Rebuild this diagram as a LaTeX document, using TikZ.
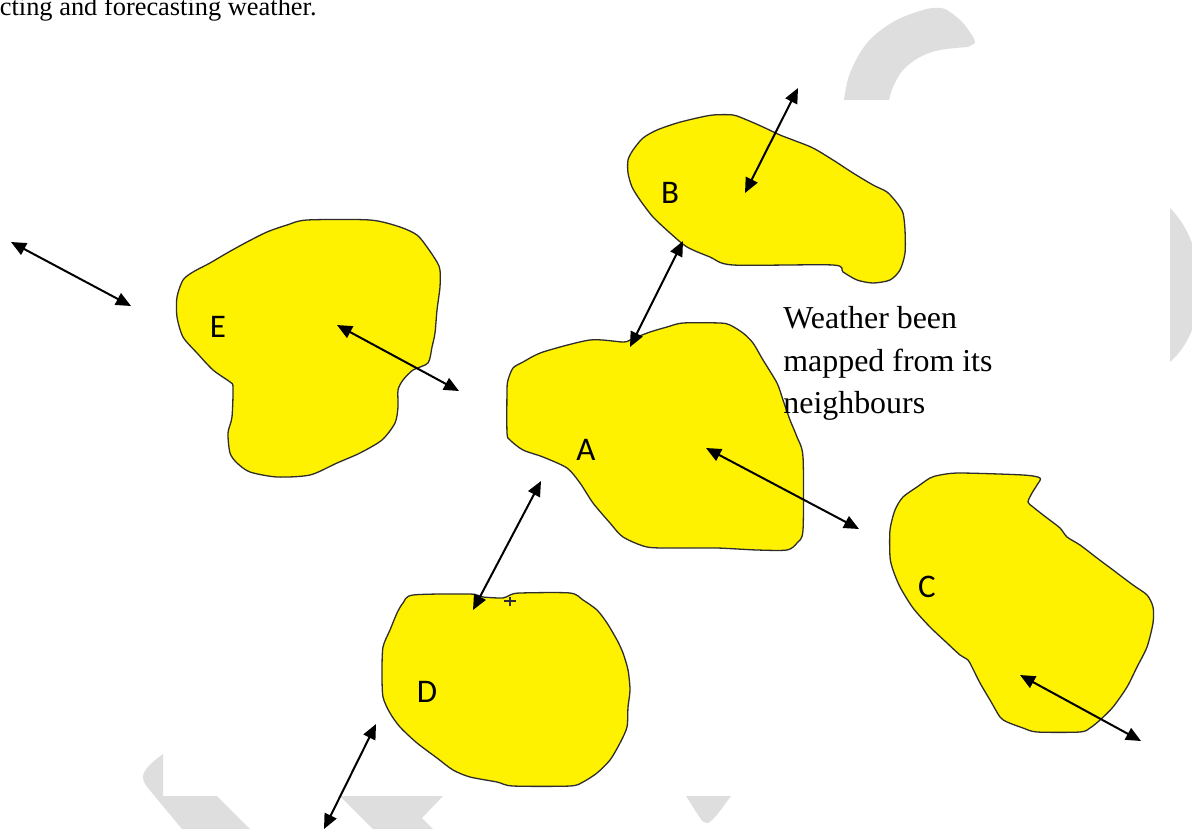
\documentclass[tikz,border=0pt]{standalone}
\usepackage{fontspec}
\setmainfont{Liberation Serif}
\newfontfamily\labfont{Carlito}
\usetikzlibrary{arrows.meta}
\definecolor{blobyellow}{RGB}{255,242,0}
\definecolor{wmgray}{RGB}{222,222,222}
\definecolor{blobline}{RGB}{45,45,45}
\begin{document}
\begin{tikzpicture}[x=0.5pt,y=-0.5pt,
  blob/.style={fill=blobyellow,draw=blobline,line width=0.65pt},
  wm/.style={fill=wmgray},
  link/.style={{Triangle[length=7.5pt,width=6.5pt]}-{Triangle[length=7.5pt,width=6.5pt]},line width=1pt},
  lab/.style={font=\labfont\fontsize{16.5}{20}\selectfont,inner sep=0pt,anchor=base},
  note/.style={font=\fontsize{15.95}{19}\selectfont,inner sep=0pt,anchor=base west}]
\useasboundingbox (0,0) rectangle (1192,829);
\fill[white] (0,0) rectangle (1192,829);
\clip (0,0) rectangle (1192,829);
% watermark shapes
\fill[wm] plot[smooth,tension=0.6] coordinates {(844,100)(850,73)(867,43)(893,22)(923,10)(940,8)(950,12)(963,23)(973,37)(975,43)} -- (968,47)
  -- plot[smooth,tension=0.6] coordinates {(968,47)(940,50)(920,57)(903,70)(893,87)(889,100)} -- cycle;
\fill[wm] (1170,208) .. controls (1180,218) and (1187,230) .. (1192,243) -- (1192,330) .. controls (1186,345) and (1178,355) .. (1170,362) -- cycle;
\fill[wm] (163,754) .. controls (152,762) and (143,770) .. (143,777) .. controls (143,781) and (145,784) .. (148,788) -- (182,829) -- (250,829) -- (217,796) -- (163,796) -- cycle;
\fill[wm] (340,796) -- (443,796) -- (422,818) -- (433,829) -- (373,829) -- cycle;
\fill[wm] (686,796) -- (731,796) .. controls (722,808) and (714,820) .. (708,823) .. controls (704,823) and (702,821) .. (700,818) -- cycle;
% blobs
\draw[blob] plot[smooth cycle,tension=0.45] coordinates {(307,220)(370,220)(400,227)(417,235)(427,247)(437,262)(440,270)(440,287)(437,310)(435,333)(432,347)(428,363)(413,370)(403,380)(398,390)(398,407)(395,423)(382,440)(360,453)(337,463)(310,475)(277,477)(250,472)(237,463)(230,453)(228,433)(232,417)(233,387)(230,382)(213,370)(197,353)(183,337)(177,317)(177,297)(183,280)(193,272)(210,263)(227,253)(247,242)(267,232)(287,225)};
\draw[blob] plot[smooth cycle,tension=0.45] coordinates {(713,115)(733,115)(747,120)(763,127)(780,135)(793,140)(813,148)(833,160)(853,173)(873,185)(887,192)(897,203)(903,213)(905,230)(905,253)(900,270)(890,280)(873,283)(857,280)(843,272)(833,265)(733,265)(710,257)(687,247)(670,233)(653,217)(640,200)(632,187)(628,173)(628,160)(633,150)(643,138)(657,130)(677,123)(697,118)};
\draw[blob] plot[smooth cycle,tension=0.45] coordinates {(623,342)(590,340)(543,352)(523,362)(513,368)(508,380)(507,390)(507,433)(510,440)(523,450)(543,457)(567,468)(580,483)(593,503)(610,523)(623,537)(647,547)(677,548)(717,548)(757,550)(787,550)(797,543)(803,530)(803,457)(797,437)(790,420)(783,400)(777,383)(763,360)(753,343)(743,333)(730,325)(720,323)(683,323)(667,327)(650,332)(637,337)(630,340)};
\draw[blob] plot[smooth cycle,tension=0.45] coordinates {(940,475)(960,473)(1023,475)(1040,478)(1037,485)(1032,493)(1028,502)(1033,507)(1047,518)(1060,528)(1067,537)(1080,545)(1097,558)(1113,570)(1133,585)(1147,595)(1153,607)(1153,623)(1147,647)(1137,667)(1127,687)(1113,707)(1100,720)(1090,728)(1080,732)(1037,732)(1023,728)(1007,722)(1000,717)(990,700)(980,683)(972,667)(968,660)(960,655)(947,643)(930,627)(913,608)(900,587)(893,570)(890,557)(890,530)(895,510)(903,497)(917,487)(930,478)};
\draw[blob] plot[smooth cycle,tension=0.45] coordinates {(413,595)(470,594)(483,597)(503,598)(510,595)(520,593)(570,593)(583,600)(597,610)(607,623)(617,640)(623,653)(628,670)(630,690)(628,707)(627,727)(620,743)(610,760)(597,773)(583,782)(570,786)(513,786)(497,782)(470,777)(453,770)(437,758)(417,743)(400,727)(390,713)(383,697)(382,673)(383,647)(390,630)(397,613)(403,603)};
\draw[blobline,line width=0.6pt] (504,601) -- (516,601) (510,597) -- (510,606);
% labels
\node[lab] (E) at (218,337) {E};
\node[lab] (A) at (586,460) {A};
\node[lab] (B) at (670,203) {B};
\node[lab] (C) at (927,597) {C};
\node[lab] (D) at (427,702) {D};
% arrow end points
\coordinate (o1) at (11,242);  \coordinate (o2) at (131,306);
\coordinate (e1) at (337,325); \coordinate (e2) at (459,391);
\coordinate (b1) at (745,193); \coordinate (b2) at (798,88);
\coordinate (ab1) at (630,347); \coordinate (ab2) at (683,241);
\coordinate (ac1) at (706,448); \coordinate (ac2) at (859,529);
\coordinate (da1) at (473,610); \coordinate (da2) at (541,481);
\coordinate (d1) at (376,724); \coordinate (d2) at (324,829);
\coordinate (c1) at (1020,675); \coordinate (c2) at (1141,741);
\draw[link] (o1) -- (o2);
\draw[link] (e1) -- (e2);
\draw[link] (b1) -- (b2);
\draw[link] (ab1) -- (ab2);
\draw[link] (ac1) -- (ac2);
\draw[link] (da1) -- (da2);
\draw[link] (d1) -- (d2);
\draw[link] (c1) -- (c2);
% texts
\node[note] (t1) at (783,328) {Weather been};
\node[note] (t2) at (783,371) {mapped from its};
\node[note] (t3) at (783,413) {neighbours};
\node[anchor=base west,inner sep=0pt,font=\fontsize{13.2}{16}\selectfont] (top) at (-0.5,16) {cting and forecasting weather.};
\end{tikzpicture}
\end{document}
